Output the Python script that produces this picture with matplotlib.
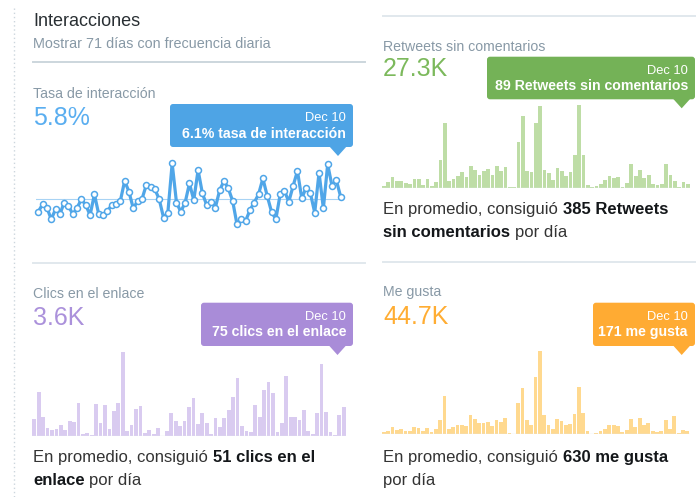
import matplotlib
matplotlib.use("Agg")
import matplotlib.pyplot as plt
from matplotlib.patches import FancyBboxPatch, Polygon

plt.rcParams["font.family"] = ["Liberation Sans", "DejaVu Sans"]

# daily values, 71 days, last one is Dec 10
tasa = [4.3, 5.2, 4.8, 3.4, 4.6, 4.0, 5.4, 5.0, 4.0, 4.8,
        5.8, 5.1, 3.9, 6.4, 4.0, 3.9, 4.4, 5.1, 5.2, 5.6,
        8.0, 6.7, 4.7, 5.6, 5.8, 7.5, 7.3, 7.0, 5.8, 3.6,
        4.2, 10.1, 5.4, 4.3, 5.4, 7.7, 5.7, 9.3, 6.5, 5.1,
        5.5, 4.8, 6.9, 8.0, 7.1, 5.6, 2.8, 3.4, 3.2, 4.5,
        5.4, 6.4, 8.3, 6.2, 4.3, 3.4, 6.4, 6.8, 5.5, 7.4,
        9.2, 5.9, 7.2, 6.5, 4.2, 9.0, 4.7, 10.0, 7.4, 8.1, 6.1]
tasa_media = 5.8

retweets = [56, 135, 262, 167, 167, 119, 95, 222, 222, 79,
            222, 40, 151, 675, 1548, 167, 222, 278, 373, 262,
            532, 421, 310, 397, 453, 310, 516, 397, 500, 16,
            16, 1096, 1707, 413, 373, 1548, 1961, 429, 365, 191,
            484, 397, 278, 381, 794, 1985, 794, 79, 16, 40,
            95, 199, 294, 246, 262, 24, 127, 580, 278, 437,
            230, 310, 103, 71, 95, 564, 310, 167, 32, 151, 89]

clics = [43, 114, 49, 21, 15, 19, 27, 15, 39, 36,
         86, 5, 7, 3, 82, 34, 79, 18, 64, 84,
         215, 13, 28, 70, 76, 8, 16, 4, 20, 0,
         13, 58, 38, 26, 38, 74, 97, 32, 58, 33,
         4, 47, 23, 46, 66, 100, 148, 26, 14, 10,
         80, 50, 119, 139, 110, 9, 33, 154, 49, 50,
         41, 66, 12, 5, 59, 186, 62, 9, 3, 53, 75]

me_gusta = [90, 180, 378, 234, 270, 162, 162, 360, 324, 180,
            324, 108, 252, 738, 2052, 288, 360, 504, 486, 432,
            1008, 828, 594, 576, 666, 450, 756, 648, 882, 36,
            18, 1674, 2502, 756, 486, 3078, 4500, 1008, 486, 252,
            792, 684, 504, 558, 1098, 2538, 1134, 144, 18, 36,
            162, 270, 486, 486, 450, 108, 216, 792, 360, 846,
            486, 612, 180, 108, 144, 756, 252, 954, 54, 234, 171]

W, H = 696, 497
GREY = "#8899a6"
DARK = "#292f33"
LINE = "#e1e8ed"

fig = plt.figure(figsize=(W / 100, H / 100), dpi=100)

# overlay axes in pixel units for all the page chrome
ov = fig.add_axes([0, 0, 1, 1], zorder=10)
ov.set_xlim(0, W)
ov.set_ylim(H, 0)
ov.axis("off")
ov.patch.set_visible(False)


def px_axes(x0, y0, x1, y1):
    a = fig.add_axes([x0 / W, 1 - y1 / H, (x1 - x0) / W, (y1 - y0) / H])
    a.axis("off")
    a.patch.set_visible(False)
    return a


def tooltip(x0, y0, x1, y1, tip_x, color, fecha, valor):
    ov.add_patch(FancyBboxPatch((x0, y0), x1 - x0, y1 - y0,
                                boxstyle="round,pad=0,rounding_size=3",
                                fc=color, ec="none"))
    ov.add_patch(Polygon([(tip_x - 9, y1 - 1), (tip_x + 9, y1 - 1), (tip_x, y1 + 9)],
                         closed=True, fc=color, ec="none"))
    ov.text(x1 - 7, y0 + 17, fecha, color="white", fontsize=9.3, ha="right", va="baseline")
    ov.text(x1 - 7, y0 + 33.5, valor, color="white", fontsize=10.2, fontweight="bold",
            ha="right", va="baseline")


renderer = fig.canvas.get_renderer()


def rich(x, y, parts, size=12):
    space = size * 100 / 72 * 0.278
    for txt, bold in parts:
        t = ov.text(x, y, txt, fontsize=size, va="baseline", ha="left",
                    fontweight="bold" if bold else "normal",
                    color="#14171a" if bold else "#333333")
        x += t.get_window_extent(renderer).width + space


def bars(a, vals, color):
    a.axhline(0, color=LINE, lw=1)
    a.bar(range(len(vals)), vals, width=0.85, color=color, lw=0)
    a.set_xlim(-0.5, len(vals) - 0.5)
    a.set_ylim(0, max(vals))


# left border and separators
ov.plot([14, 14], [8, H], color="#ccd6dd", lw=1, ls=(0, (1, 2)))
ov.plot([33, 365], [62, 62], color="#ccd6dd", lw=1.4)
ov.plot([33, 365], [263, 263], color=LINE, lw=1.4)
ov.plot([383, W], [16, 16], color=LINE, lw=1.4)
ov.plot([383, W], [262, 262], color=LINE, lw=1.4)

ov.text(33, 26, "Interacciones", fontsize=13, color=DARK, va="baseline")
ov.text(33, 48.3, "Mostrar 71 días con frecuencia diaria", fontsize=10.4, color=GREY, va="baseline")

# Tasa de interaccion
ov.text(33, 97.5, "Tasa de interacción", fontsize=10.2, color=GREY, va="baseline")
ov.text(33, 125, "5.8%", fontsize=18, color="#5aaef0", va="baseline")
tooltip(170, 104, 353, 147, 338, "#4ea4e5", "Dec 10", "6.1% tasa de interacción")

ax = px_axes(36.1, 162.6, 342.8, 225.1)
x = range(len(tasa))
ax.axhline(tasa_media, color="#a8d3f4", lw=0.8)
ax.plot(x, tasa, color="#50a6e8", lw=2.3, marker="o", ms=4.3, mfc="white",
        mec="#50a6e8", mew=1.1, clip_on=False)
ax.set_xlim(-0.5, len(tasa) - 0.5)
ax.set_ylim(2.7, 10.2)

# Retweets sin comentarios
ov.text(383, 50.7, "Retweets sin comentarios", fontsize=10.2, color=GREY, va="baseline")
ov.text(383, 76, "27.3K", fontsize=18, color="#7cb95c", va="baseline")
bars(px_axes(381.8, 104.7, 689.9, 188), retweets, "#bedda6")
tooltip(487, 56.7, 695, 99.3, 681.7, "#74b257", "Dec 10", "89 Retweets sin comentarios")

rich(383, 214, [("En promedio, consiguió", False), ("385 Retweets", True)])
rich(383, 236.7, [("sin comentarios", True), ("por día", False)])

# Clics en el enlace
ov.text(33, 297.7, "Clics en el enlace", fontsize=10.2, color=GREY, va="baseline")
ov.text(33, 325, "3.6K", fontsize=18, color="#ab91db", va="baseline")
bars(px_axes(32.1, 352.3, 345.9, 436), clics, "#d9cbf0")
tooltip(201, 302.7, 353, 346, 337.5, "#a98cd8", "Dec 10", "75 clics en el enlace")

rich(33, 462.3, [("En promedio, consiguió", False), ("51 clics en el", True)])
rich(33, 485, [("enlace", True), ("por día", False)])

# Me gusta
ov.text(383, 296, "Me gusta", fontsize=10.2, color=GREY, va="baseline")
ov.text(383, 324, "44.7K", fontsize=18, color="#ffad33", va="baseline")
bars(px_axes(381.8, 350.7, 689.5, 434), me_gusta, "#ffd98f")
tooltip(593, 302.7, 695, 346, 681.7, "#ffab33", "Dec 10", "171 me gusta")

rich(383, 462.3, [("En promedio, consiguió", False), ("630 me gusta", True)])
rich(383, 485, [("por día", False)])

fig.savefig("out.png", dpi=100)
